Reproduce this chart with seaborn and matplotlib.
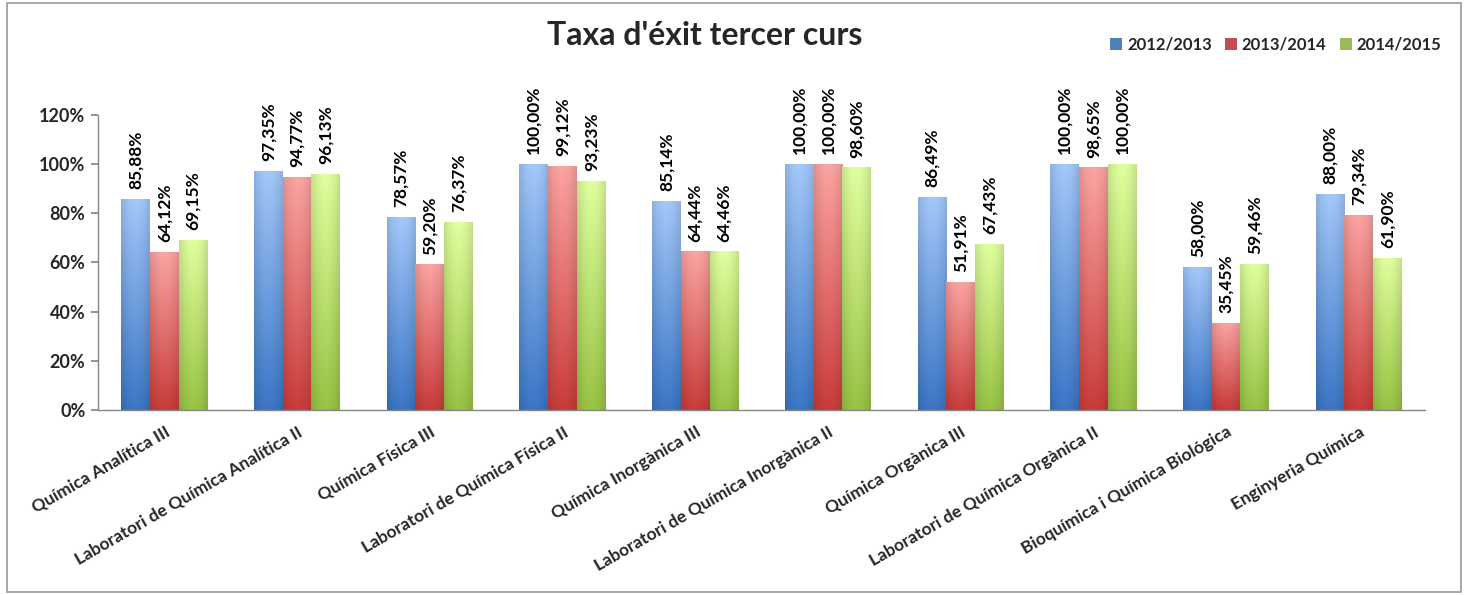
import numpy as np
import pandas as pd
import matplotlib
matplotlib.use("Agg")
import matplotlib.pyplot as plt
from matplotlib.patches import Patch, Rectangle
import seaborn as sns

# ============================================================
# DADES
# ============================================================
categories = [
    "Química Analítica III",
    "Laboratori de Química Analítica II",
    "Química Física III",
    "Laboratori de Química Física II",
    "Química Inorgànica III",
    "Laboratori de Química Inorgànica II",
    "Química Orgànica III",
    "Laboratori de Química Orgànica II",
    "Bioquímica i Química Biológica",
    "Enginyeria Química",
]
years = ["2012/2013", "2013/2014", "2014/2015"]
v_2012 = [85.88, 97.35, 78.57, 100.00, 85.14, 100.00, 86.49, 100.00, 58.00, 88.00]
v_2013 = [64.12, 94.77, 59.20, 99.12, 64.44, 100.00, 51.91, 98.65, 35.45, 79.34]
v_2014 = [69.15, 96.13, 76.37, 93.23, 64.46, 98.60, 67.43, 100.00, 59.46, 61.90]
yticks = [0, 20, 40, 60, 80, 100, 120]

df = pd.DataFrame({
    "categoria": categories * 3,
    "curs": [y for y in years for _ in categories],
    "taxa": v_2012 + v_2013 + v_2014,
})

# colors (top, bottom) per serie
grad = {
    "2012/2013": ("#a3c8fa", "#3b76c6"),
    "2013/2014": ("#fba4a2", "#c93c39"),
    "2014/2015": ("#e0ff9e", "#98c344"),
}
legend_col = ["#4f81bd", "#c0504d", "#9bbb59"]

# ============================================================
# FIGURA
# ============================================================
sns.set_theme(style="white")
plt.rcParams["font.family"] = ["Lato", "DejaVu Sans"]

fig = plt.figure(figsize=(14.68, 5.95), dpi=100)
ax = fig.add_axes([0.0668, 0.311, 0.904, 0.496])

sns.barplot(data=df, x="categoria", y="taxa", hue="curs", hue_order=years,
            palette=legend_col, width=0.65, gap=0, legend=False, ax=ax,
            errorbar=None, saturation=1)


def hex2rgb(h):
    return np.array(matplotlib.colors.to_rgb(h))


# degradat a cada barra
for cont, yr in zip(ax.containers, years):
    top, bot = hex2rgb(grad[yr][0]), hex2rgb(grad[yr][1])
    for bar in cont:
        x0, y0 = bar.get_x(), bar.get_y()
        w, h = bar.get_width(), bar.get_height()
        t = np.linspace(0, 1, 120)[:, None]
        s = np.linspace(-1, 1, 30)[None, :]
        img = bot[None, None, :] * (1 - t[..., None]) + top[None, None, :] * t[..., None]
        img = img * (1 - 0.12 * (s[..., None] ** 2))
        img = np.clip(img, 0, 1)
        im = ax.imshow(img, extent=[x0, x0 + w, y0, y0 + h], origin="lower",
                       aspect="auto", zorder=2)
        im.set_clip_path(bar)
        bar.set_facecolor("none")
        bar.set_edgecolor("none")
        txt = f"{h:.2f}".replace(".", ",") + "%"
        ax.text(x0 + w / 2, y0 + h + 4, txt, rotation=90, ha="center",
                va="bottom", fontsize=12.5, fontweight="bold", color="black")

ax.set_xlim(-0.5, len(categories) - 0.5)
ax.set_ylim(0, 120)
ax.set_yticks(yticks)
ax.set_yticklabels([f"{v}%" for v in yticks], fontsize=13, fontweight="bold")
ax.set_xticks(range(len(categories)))
ax.set_xticklabels(categories, rotation=30, ha="right", rotation_mode="anchor",
                   fontsize=12.5, fontweight="bold")
ax.set_xticks(np.arange(-0.5, len(categories) + 0.5, 1), minor=True)
ax.tick_params(axis="x", which="major", length=0, pad=10)
ax.tick_params(axis="x", which="minor", length=5, color="#868686", direction="out")
ax.tick_params(axis="y", length=5, color="#868686", direction="out", left=True, pad=4)
ax.set_xlabel("")
ax.set_ylabel("")
sns.despine(ax=ax)
for sp in ["left", "bottom"]:
    ax.spines[sp].set_color("#868686")
    ax.spines[sp].set_linewidth(1.0)

fig.text(0.48, 0.94, "Taxa d'éxit tercer curs", ha="center", va="center",
         fontsize=23, fontweight="bold")

handles = [Patch(facecolor=c, edgecolor="none", label=y) for c, y in zip(legend_col, years)]
fig.legend(handles=handles, loc="center right", bbox_to_anchor=(0.992, 0.925), ncol=3,
           frameon=False, prop={"weight": "bold", "size": 12}, handlelength=0.7,
           handleheight=0.7, handletextpad=0.3, columnspacing=0.8)

fig.patches.append(Rectangle((0.005, 0.005), 0.99, 0.99, transform=fig.transFigure,
                             fill=False, edgecolor="#9a9a9a", linewidth=1.2))

plt.savefig("out.png", dpi=100)
